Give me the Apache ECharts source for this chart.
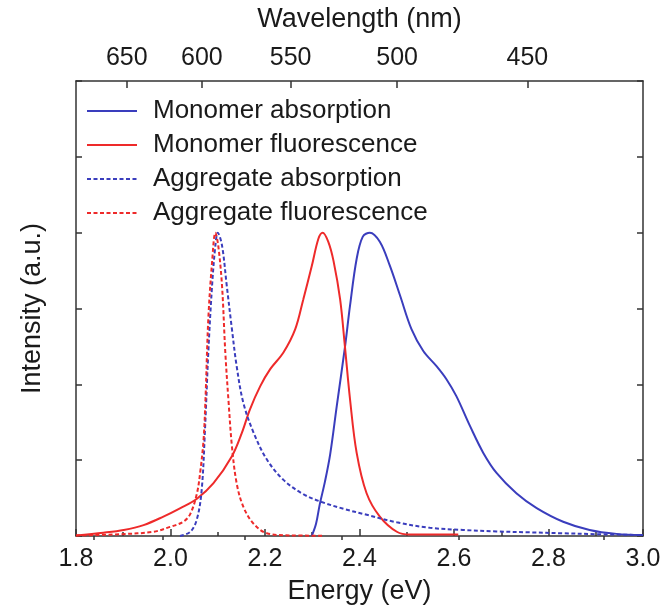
<!DOCTYPE html>
<html>
<head>
<meta charset="utf-8">
<script src="https://cdn.jsdelivr.net/npm/echarts@6/dist/echarts.min.js"></script>
<style>
  html, body { margin: 0; padding: 0; background: #fff; }
  #chart { width: 667px; height: 613px; }
</style>
</head>
<body>
<div id="chart"></div>
<script>
// spectra: [energy (eV), normalised intensity]
var monoAbs = [
  [2.299, 0], [2.308, 0.04], [2.316, 0.105], [2.327, 0.18], [2.338, 0.27],
  [2.352, 0.43], [2.369, 0.62], [2.380, 0.76], [2.394, 0.914], [2.407, 0.987],
  [2.422, 1.0], [2.443, 0.97], [2.464, 0.892], [2.486, 0.792], [2.510, 0.682],
  [2.535, 0.61], [2.563, 0.56], [2.584, 0.517], [2.605, 0.461], [2.634, 0.362],
  [2.662, 0.274], [2.690, 0.208], [2.732, 0.141], [2.775, 0.092], [2.831, 0.047],
  [2.887, 0.02], [2.944, 0.007], [3.0, 0.003]
];
var monoFlu = [
  [1.800, 0.002], [1.858, 0.011], [1.901, 0.02], [1.943, 0.036], [1.985, 0.064],
  [2.021, 0.092], [2.056, 0.123], [2.091, 0.174], [2.130, 0.263], [2.151, 0.34],
  [2.168, 0.417], [2.190, 0.494], [2.211, 0.55], [2.239, 0.605], [2.264, 0.682],
  [2.281, 0.78], [2.299, 0.89], [2.313, 0.98], [2.322, 1.0], [2.334, 0.97],
  [2.345, 0.907], [2.359, 0.78], [2.369, 0.627], [2.380, 0.45], [2.394, 0.274],
  [2.415, 0.141], [2.443, 0.064], [2.479, 0.014], [2.507, 0.005], [2.609, 0.005]
];
var aggAbs = [
  [2.020, 0], [2.042, 0.014], [2.056, 0.056], [2.066, 0.152], [2.073, 0.351],
  [2.080, 0.605], [2.088, 0.826], [2.095, 0.958], [2.100, 1.0], [2.109, 0.958],
  [2.119, 0.826], [2.130, 0.682], [2.140, 0.56], [2.154, 0.44], [2.176, 0.34],
  [2.204, 0.252], [2.239, 0.185], [2.281, 0.138], [2.320, 0.112], [2.370, 0.088],
  [2.410, 0.072], [2.479, 0.045], [2.549, 0.027], [2.619, 0.02], [2.690, 0.015],
  [2.760, 0.012], [2.831, 0.009], [2.901, 0.006], [3.0, 0.003]
];
var aggFlu = [
  [1.800, 0.002], [1.894, 0.006], [1.964, 0.014], [1.999, 0.03], [2.027, 0.047],
  [2.042, 0.073], [2.056, 0.141], [2.063, 0.212], [2.070, 0.318], [2.074, 0.45],
  [2.080, 0.715], [2.088, 0.903], [2.095, 1.0], [2.101, 0.958], [2.109, 0.826],
  [2.116, 0.605], [2.123, 0.44], [2.130, 0.296], [2.140, 0.174], [2.154, 0.097],
  [2.175, 0.042], [2.204, 0.009], [2.253, 0.002], [2.323, 0.001]
];

// top axis tick labels (nm)
var waveMajor = [650, 600, 550, 500, 450];
var waveMinor = [675, 625, 575, 525, 475, 425];

var HC = 1239.84;
function toE(nm) { return HC / nm; }

var blue = '#3a3dbd';
var red = '#ee2a2a';
var ink = '#1a1a1a';
var font = 'Liberation Sans, Arial, sans-serif';

var chart = echarts.init(document.getElementById('chart'));

function line(name, data, color, dashed) {
  return {
    name: name,
    type: 'line',
    data: data,
    symbol: 'none',
    smooth: 0.35,
    lineStyle: { color: color, width: 2, type: dashed ? [4, 2.5] : 'solid' },
    itemStyle: { color: color },
    z: dashed ? 3 : 2
  };
}

var option = {
  animation: false,
  backgroundColor: '#fff',
  textStyle: { fontFamily: font, color: ink },
  grid: { left: 76, right: 24, top: 81, bottom: 77 },
  legend: {
    orient: 'vertical',
    left: 86,
    top: 96,
    padding: 0,
    itemWidth: 50,
    itemHeight: 14,
    itemGap: 4,
    itemStyle: { opacity: 0 },
    textStyle: { fontSize: 26, color: ink, fontFamily: font, lineHeight: 30, padding: [0, 0, 0, 11] },
    data: ['Monomer absorption', 'Monomer fluorescence', 'Aggregate absorption', 'Aggregate fluorescence']
  },
  xAxis: [
    {
      type: 'value',
      position: 'bottom',
      min: 1.8,
      max: 3.0,
      interval: 0.2,
      name: 'Energy (eV)',
      nameLocation: 'middle',
      nameGap: 42,
      nameTextStyle: { fontSize: 27, color: ink },
      axisLine: { onZero: false, lineStyle: { color: '#333', width: 1.5 } },
      axisTick: { inside: true, length: 7, lineStyle: { color: '#333', width: 1.5 } },
      minorTick: { show: true, splitNumber: 2, length: 4, lineStyle: { color: '#333', width: 1.5 } },
      axisLabel: { fontSize: 25, color: ink, margin: 11, formatter: function (v) { return v.toFixed(1); } },
      splitLine: { show: false }
    },
    {
      type: 'value',
      position: 'top',
      min: 1.8,
      max: 3.0,
      name: 'Wavelength (nm)',
      nameLocation: 'middle',
      nameGap: 48,
      nameTextStyle: { fontSize: 27, color: ink },
      axisLine: { onZero: false, lineStyle: { color: '#333', width: 1.5 } },
      axisTick: { inside: true, length: 7, customValues: waveMajor.map(toE), lineStyle: { color: '#333', width: 1.5 } },
      axisLabel: {
        fontSize: 25, color: ink, margin: 10,
        customValues: waveMajor.map(toE),
        formatter: function (v) { return String(Math.round(HC / v)); }
      },
      splitLine: { show: false }
    },
    {
      type: 'value',
      position: 'top',
      min: 1.8,
      max: 3.0,
      axisLine: { show: false },
      axisTick: { inside: true, length: 4, customValues: waveMinor.map(toE), lineStyle: { color: '#333', width: 1.5 } },
      axisLabel: { show: false },
      splitLine: { show: false }
    }
  ],
  yAxis: [
    {
      type: 'value',
      position: 'left',
      min: 0,
      max: 1.5,
      interval: 0.25,
      name: 'Intensity (a.u.)',
      nameLocation: 'middle',
      nameGap: 30,
      nameTextStyle: { fontSize: 27, color: ink },
      axisLine: { show: true, onZero: false, lineStyle: { color: '#333', width: 1.5 } },
      axisTick: { show: true, inside: true, length: 6, lineStyle: { color: '#333', width: 1.5 } },
      axisLabel: { show: false },
      splitLine: { show: false }
    },
    {
      type: 'value',
      position: 'right',
      min: 0,
      max: 1.5,
      interval: 0.25,
      axisLine: { show: true, onZero: false, lineStyle: { color: '#333', width: 1.5 } },
      axisTick: { show: true, inside: true, length: 6, lineStyle: { color: '#333', width: 1.5 } },
      axisLabel: { show: false },
      splitLine: { show: false }
    }
  ],
  series: [
    line('Monomer absorption', monoAbs, blue, false),
    line('Monomer fluorescence', monoFlu, red, false),
    line('Aggregate absorption', aggAbs, blue, true),
    line('Aggregate fluorescence', aggFlu, red, true)
  ]
};

chart.setOption(option);
</script>
</body>
</html>
